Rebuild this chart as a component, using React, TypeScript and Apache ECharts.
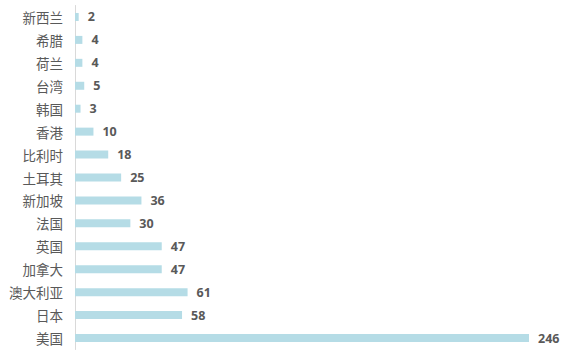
import React, { useEffect, useRef } from "react";
import * as echarts from "echarts";

const categories = ["新西兰", "希腊", "荷兰", "台湾", "韩国", "香港", "比利时", "土耳其", "新加坡", "法国", "英国", "加拿大", "澳大利亚", "日本", "美国"];
const values = [2, 4, 4, 5, 3, 10, 18, 25, 36, 30, 47, 47, 61, 58, 246];

export default function App() {
  const ref = useRef<HTMLDivElement>(null);
  useEffect(() => {
    const chart = echarts.init(ref.current!, null, { renderer: "svg" });
    chart.setOption({
      animation: false,
      backgroundColor: "#ffffff",
      grid: { left: 75, right: 53, top: 5.5, bottom: 12.5, containLabel: false },
      xAxis: {
        type: "value",
        min: 0,
        max: 246,
        show: false,
      },
      yAxis: {
        type: "category",
        data: categories,
        inverse: true,
        axisLine: { show: true, lineStyle: { color: "#d9d9d9", width: 1 } },
        axisTick: { show: false },
        axisLabel: {
          color: "#595959",
          fontSize: 13.5,
          margin: 12,
          fontFamily: "Noto Sans CJK SC",
        },
      },
      series: [
        {
          type: "bar",
          data: values,
          barWidth: 8,
          itemStyle: { color: "#b5dce6" },
          label: {
            show: true,
            position: "right",
            distance: 9,
            color: "#595959",
            fontWeight: "bold",
            fontSize: 12.5,
            fontFamily: "Open Sans",
          },
        },
      ],
    });
    return () => chart.dispose();
  }, []);
  return (
    <div
      ref={ref}
      style={{ position: "absolute", left: 0, top: 0, width: 582, height: 362 }}
    />
  );
}
